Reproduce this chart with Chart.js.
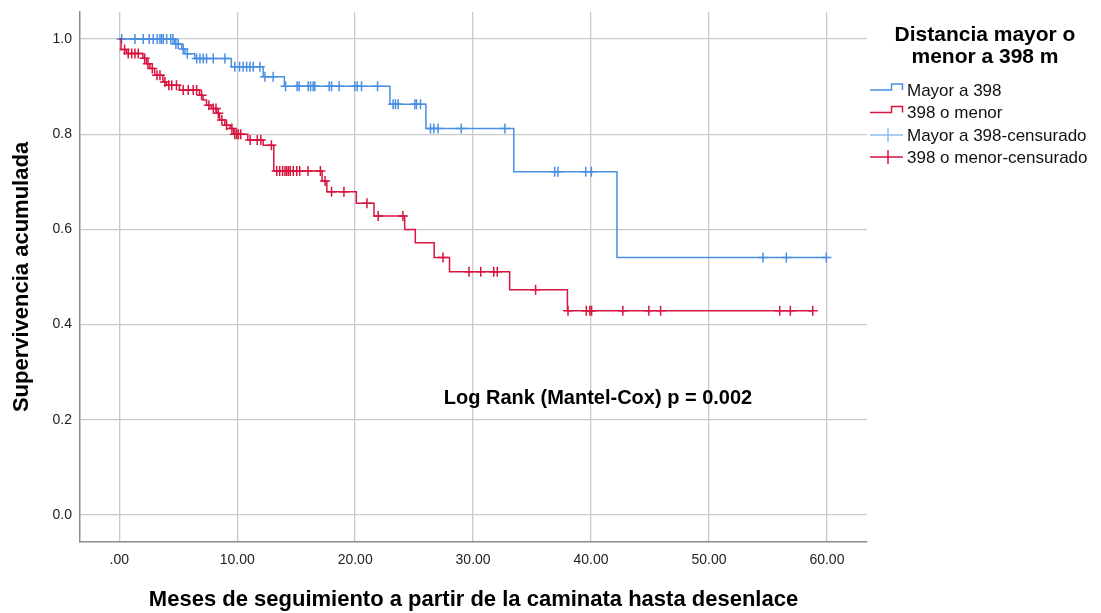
<!DOCTYPE html>
<html>
<head>
<meta charset="utf-8">
<title>Supervivencia acumulada por distancia</title>
<script src="https://cdn.jsdelivr.net/npm/chart.js@4.4.1/dist/chart.umd.min.js"></script>
<style>
  html, body { margin: 0; padding: 0; background: #ffffff; }
  canvas { display: block; }
</style>
</head>
<body>
<canvas id="km" width="1101" height="613"></canvas>
<script>
// ---- Data -------------------------------------------------------------
const xTicks = [0, 10, 20, 30, 40, 50, 60];
const yTicks = [0, 0.2, 0.4, 0.6, 0.8, 1.0];

const groupLabels = ['Mayor a 398', '398 o menor', 'Mayor a 398-censurado', '398 o menor-censurado'];
const legendTitle = ['Distancia mayor o', 'menor a 398 m'];
const xTitle = 'Meses de seguimiento a partir de la caminata hasta desenlace';
const yTitle = 'Supervivencia acumulada';
const logRankText = 'Log Rank (Mantel-Cox) p = 0.002';

// Group "Mayor a 398": event times (months) and survival after each event
const mayorEventMonths = [4.7, 5.3, 5.57, 6.4, 9.5, 12.2, 14.0, 22.95, 26.0, 33.45, 42.2];
const mayorSurvival    = [0.990, 0.979, 0.969, 0.959, 0.942, 0.921, 0.901, 0.863, 0.812, 0.721, 0.541];
const mayorCensorMonths = [
  0.2, 1.33, 2.03, 2.54, 2.88, 3.22, 3.45, 3.59, 3.73, 4.02, 4.36, 4.55,
  4.8, 5.0, 5.42, 5.77, 6.56, 6.84, 7.12, 7.4, 7.97, 8.96,
  9.8, 10.2, 10.5, 10.8, 11.08, 11.36, 11.92, 12.35, 13.05,
  14.1, 15.08, 15.25, 16.02, 16.22, 16.44, 16.58, 17.8, 18.0, 18.64, 19.97, 20.17, 20.54, 21.9,
  23.22, 23.42, 23.64, 25.06, 25.2, 25.54,
  26.39, 26.67, 27.03, 29.0, 32.7,
  36.92, 37.2, 39.55, 40.03,
  54.58, 56.56, 59.95
];

// Group "398 o menor"
const menorEventMonths = [
  0.15, 0.6, 2.0, 2.3, 2.6, 3.0, 3.7, 4.0, 5.1, 6.8, 7.1, 7.4, 7.8, 8.25, 8.5, 8.95,
  9.4, 9.7, 10.9, 12.2, 13.1, 17.2, 17.6, 20.1, 21.6, 24.2, 25.1, 26.7, 28.0, 33.1, 38.0
];
const menorSurvival = [
  0.978, 0.970, 0.960, 0.948, 0.938, 0.924, 0.910, 0.903, 0.893, 0.882, 0.872, 0.861, 0.854, 0.844, 0.830, 0.819,
  0.812, 0.800, 0.788, 0.777, 0.723, 0.702, 0.679, 0.655, 0.628, 0.600, 0.572, 0.541, 0.511, 0.473, 0.429
];
const menorCensorMonths = [
  0.45, 0.76, 1.05, 1.33, 1.61, 2.15, 2.43, 2.8, 3.2, 3.45, 3.87, 4.2, 4.45, 4.85,
  5.42, 5.85, 6.27, 6.56, 6.98, 7.6, 7.97, 8.2, 8.4, 8.7, 9.1, 9.55,
  9.8, 9.95, 10.1, 10.3, 11.1, 11.7, 12.0, 12.9,
  13.35, 13.6, 13.85, 14.05, 14.2, 14.35, 14.5, 14.75, 15.05, 15.3, 16.0, 17.05,
  17.45, 18.0, 19.05, 21.0, 21.95, 24.05, 27.45,
  29.65, 30.65, 31.75, 32.05, 35.3,
  38.05, 39.6, 39.9, 40.05, 42.7, 44.9, 45.9, 56.0, 56.9, 58.8
];

// ---- Helpers -----------------------------------------------------------
// Survival value of the step function at time t
function survivalAt(times, surv, t) {
  let s = 1;
  for (let i = 0; i < times.length; i++) {
    if (times[i] <= t) s = surv[i]; else break;
  }
  return s;
}
// Step curve: starts at (0, 1), drops at each event, runs to the last follow-up
function stepPoints(times, surv, censors) {
  const pts = [{ x: 0, y: 1 }];
  times.forEach((t, i) => pts.push({ x: t, y: surv[i] }));
  const end = Math.max(censors[censors.length - 1], times[times.length - 1]);
  pts.push({ x: end, y: survivalAt(times, surv, end) });
  return pts;
}
function censorPoints(times, surv, censors) {
  return censors.map(t => ({ x: t, y: survivalAt(times, surv, t) }));
}
// Keep the plot frame fixed: no extra room reserved for edge tick labels
function noEdgePadding(s) {
  s.paddingTop = 0; s.paddingBottom = 0; s.paddingLeft = 0; s.paddingRight = 0;
}

const BLUE = '#4a8fe2';
const BLUE_LIGHT = '#92bdf0';
const RED = '#d8143f';
const FONT = '"Liberation Sans", Arial, Helvetica, sans-serif';

// ---- Right-hand legend and test annotation -----------------------------
const sideLegend = {
  id: 'sideLegend',
  afterDraw(chart) {
    const ctx = chart.ctx;
    ctx.save();
    ctx.fillStyle = '#000';
    ctx.textAlign = 'center';
    ctx.textBaseline = 'middle';
    ctx.font = 'bold 21px ' + FONT;
    ctx.fillText(legendTitle[0], 985, 35);
    ctx.fillText(legendTitle[1], 985, 57);

    const rows = [90, 112.5, 135, 157];
    ctx.font = '17px ' + FONT;
    ctx.textAlign = 'left';
    chart.data.datasets.forEach((d, i) => {
      const y = rows[i];
      ctx.lineWidth = 1.5;
      ctx.strokeStyle = d.legendColor;
      ctx.beginPath();
      if (d.showLine) {
        ctx.moveTo(870, y);
        ctx.lineTo(891.5, y);
        ctx.lineTo(891.5, y - 6);
        ctx.lineTo(902.5, y - 6);
        ctx.lineTo(902.5, y);
      } else {
        ctx.moveTo(870, y);
        ctx.lineTo(903, y);
        ctx.moveTo(888, y - 7);
        ctx.lineTo(888, y + 7);
      }
      ctx.stroke();
      ctx.fillStyle = '#111';
      ctx.fillText(d.label, 907, y + 1);
    });

    ctx.fillStyle = '#000';
    ctx.textAlign = 'center';
    ctx.font = 'bold 20px ' + FONT;
    ctx.fillText(logRankText, 598, 398);
    ctx.restore();
  }
};

// ---- Chart -------------------------------------------------------------
new Chart(document.getElementById('km'), {
  type: 'scatter',
  data: {
    datasets: [
      {
        label: groupLabels[0],
        data: stepPoints(mayorEventMonths, mayorSurvival, mayorCensorMonths),
        showLine: true, stepped: true, borderColor: BLUE, borderWidth: 1.5,
        pointRadius: 0, legendColor: BLUE, order: 2
      },
      {
        label: groupLabels[1],
        data: stepPoints(menorEventMonths, menorSurvival, menorCensorMonths),
        showLine: true, stepped: true, borderColor: RED, borderWidth: 1.5,
        pointRadius: 0, legendColor: RED, order: 1
      },
      {
        label: groupLabels[2],
        data: censorPoints(mayorEventMonths, mayorSurvival, mayorCensorMonths),
        showLine: false, pointStyle: 'cross', pointRadius: 5, borderColor: BLUE,
        borderWidth: 1.5, legendColor: BLUE_LIGHT, order: 2
      },
      {
        label: groupLabels[3],
        data: censorPoints(menorEventMonths, menorSurvival, menorCensorMonths),
        showLine: false, pointStyle: 'cross', pointRadius: 5, borderColor: RED,
        borderWidth: 1.5, legendColor: RED, order: 1
      }
    ]
  },
  options: {
    responsive: false,
    animation: false,
    devicePixelRatio: 1,
    layout: { padding: { left: 0, top: 12, right: 234, bottom: 0 } },
    plugins: { legend: { display: false }, tooltip: { enabled: false } },
    scales: {
      x: {
        type: 'linear', min: -3.33, max: 63.4,
        afterBuildTicks: s => { s.ticks = xTicks.map(v => ({ value: v })); },
        afterFit: s => { s.height = 71; noEdgePadding(s); },
        grid: { color: '#c9c9c9', lineWidth: 1.3, drawTicks: false },
        border: { display: true, color: '#8c8c8c', width: 1.5 },
        ticks: {
          padding: 10, color: '#222', font: { family: FONT, size: 14 },
          callback: v => v === 0 ? '.00' : v.toFixed(2)
        },
        title: {
          display: true, text: xTitle, color: '#000',
          font: { family: FONT, size: 22, weight: 'bold' },
          padding: { top: 0, bottom: 0 }
        }
      },
      y: {
        type: 'linear', min: -0.057, max: 1.057,
        afterBuildTicks: s => { s.ticks = yTicks.map(v => ({ value: v })); },
        afterFit: s => { s.width = 80; noEdgePadding(s); },
        grid: { color: '#c9c9c9', lineWidth: 1.3, drawTicks: false },
        border: { display: true, color: '#8c8c8c', width: 1.5 },
        ticks: {
          padding: 8, color: '#222', font: { family: FONT, size: 14 },
          callback: v => v.toFixed(1)
        },
        title: {
          display: true, text: yTitle, color: '#000',
          font: { family: FONT, size: 22, weight: 'bold' },
          padding: { top: 9, bottom: 0 }
        }
      }
    }
  },
  plugins: [sideLegend]
});
</script>
</body>
</html>
